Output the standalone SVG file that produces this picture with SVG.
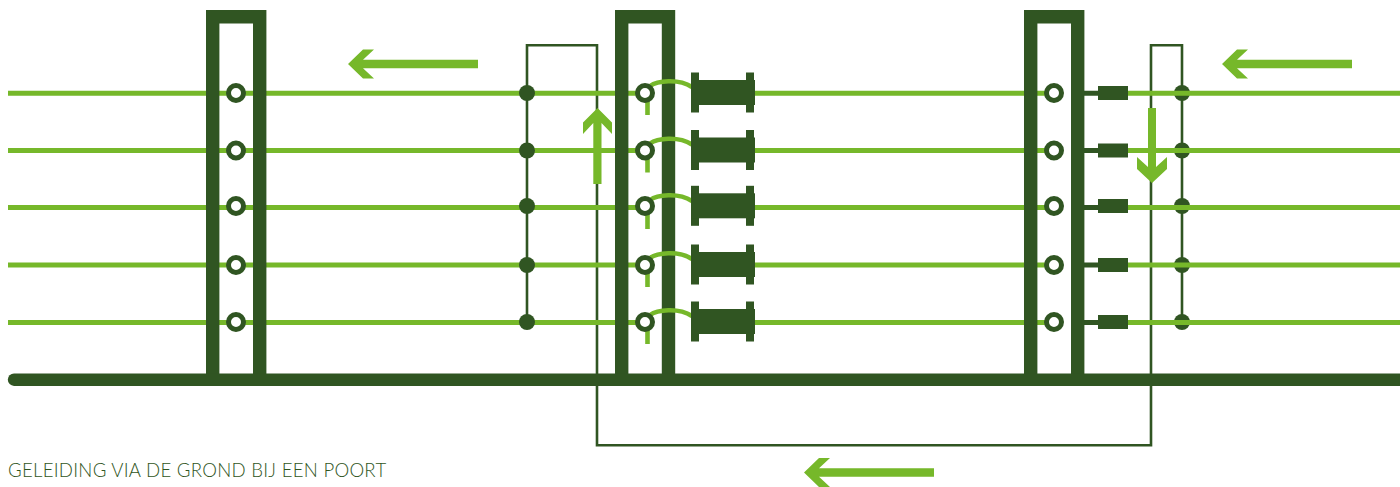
<svg xmlns="http://www.w3.org/2000/svg" width="1400" height="487" viewBox="0 0 1400 487">
<style>
.wire{stroke:#76b82a;stroke-width:5;fill:none}
.loop{stroke:#305522;stroke-width:2.6;fill:none}
.stub{stroke:#305522;stroke-width:5;fill:none}
.post{fill:none;stroke:#305522;stroke-width:13.400}
.ring{fill:#fff;stroke:#305522;stroke-width:5}
.dot{fill:#305522}
.arr{fill:#76b82a}
.lead{stroke:#76b82a;stroke-width:4.600;fill:none}
.dk{fill:#305522}
text{font-family:Lato,"Open Sans",sans-serif;font-weight:300;font-size:18.600px;letter-spacing:.27px;fill:#305522}
</style>
<defs>
<path id="arrow" d="M0 0L15 -14.500H26L15 -4.250H130V4.250H15L26 14.500H15Z" class="arr"/>
<g id="spool" class="dk"><rect x="0" y="-20.500" width="8" height="40"/><rect x="55" y="-20.500" width="8" height="40"/><rect x="0" y="-13" width="64" height="25"/></g>
<g id="block" class="dk"><rect x="0" y="-7" width="30" height="14"/></g>
</defs>
<g id="connectors">
<g id="loop-wire"><path class="loop" d="M527 322V45.300H597V445.300H1151V45.300H1182V322"/></g>
<g id="wires-left">
<path class="wire" d="M8 93.300H645M8 150.500H645M8 207.500H645M8 265H645M8 322.500H645"/>
</g>
<g id="wires-mid">
<path class="wire" d="M755 93.300H1054M755 150.500H1054M755 207.500H1054M755 265H1054M755 322.500H1054"/>
</g>
<g id="right-junctions"><circle class="dot" cx="1182" cy="93" r="8"/><circle class="dot" cx="1182" cy="150.500" r="8"/><circle class="dot" cx="1182" cy="206" r="8"/><circle class="dot" cx="1182" cy="265" r="8"/><circle class="dot" cx="1182" cy="322" r="8"/></g>
<g id="wires-right">
<path class="wire" d="M1128 93.300H1400M1128 150.500H1400M1128 207.500H1400M1128 265H1400M1128 322.500H1400"/>
</g>
<path class="stub" d="M1084 93.300H1098M1084 150.500H1098M1084 207.500H1098M1084 265H1098M1084 322.500H1098"/>
<g id="left-junctions"><circle class="dot" cx="527" cy="93" r="8"/><circle class="dot" cx="527" cy="150.500" r="8"/><circle class="dot" cx="527" cy="206" r="8"/><circle class="dot" cx="527" cy="265" r="8"/><circle class="dot" cx="527" cy="322" r="8"/></g>
</g>
<g id="post-1"><path class="post" d="M212.700 380V16.700H259.700V380"/></g>
<g id="post-2"><path class="post" d="M621.700 380V16.700H668.500V380"/></g>
<g id="post-3"><path class="post" d="M1030.700 380V16.700H1077.700V380"/></g>
<g id="ground"><path d="M14 379.700H1400" stroke="#305522" stroke-width="12.400" stroke-linecap="round" fill="none"/></g>
<g id="leads">
<path class="lead" d="M650 86C657 81 678 78 692 87M650 143.500C657 138.500 678 135.500 692 144.500M650 200C657 195 678 192 692 201M650 258C657 253 678 250 692 259M650 315C657 310 678 307 692 316"/>
<path class="lead" d="M647.500 100V115M647.500 157.500V172.500M647.500 213V229M647.500 272V287M647.500 329V344"/>
</g>
<g id="rings-1"><circle class="ring" cx="236" cy="93" r="7.500"/><circle class="ring" cx="236" cy="150.500" r="7.500"/><circle class="ring" cx="236" cy="206" r="7.500"/><circle class="ring" cx="236" cy="265" r="7.500"/><circle class="ring" cx="236" cy="322" r="7.500"/></g>
<g id="rings-2"><circle class="ring" cx="645" cy="93" r="7.500"/><circle class="ring" cx="645" cy="150.500" r="7.500"/><circle class="ring" cx="645" cy="206" r="7.500"/><circle class="ring" cx="645" cy="265" r="7.500"/><circle class="ring" cx="645" cy="322" r="7.500"/></g>
<g id="rings-3"><circle class="ring" cx="1054" cy="93" r="7.500"/><circle class="ring" cx="1054" cy="150.500" r="7.500"/><circle class="ring" cx="1054" cy="206" r="7.500"/><circle class="ring" cx="1054" cy="265" r="7.500"/><circle class="ring" cx="1054" cy="322" r="7.500"/></g>
<g id="spools"><use href="#spool" x="691" y="93"/><use href="#spool" x="691" y="150.500"/><use href="#spool" x="691" y="206.300"/><use href="#spool" x="691" y="265"/><use href="#spool" x="691" y="322"/></g>
<g id="blocks"><use href="#block" x="1098" y="93"/><use href="#block" x="1098" y="150.500"/><use href="#block" x="1098" y="206"/><use href="#block" x="1098" y="265"/><use href="#block" x="1098" y="322"/></g>
<g id="arrows">
<use href="#arrow" transform="translate(348 64)"/>
<use href="#arrow" transform="translate(1222 64)"/>
<use href="#arrow" transform="translate(804 472.500)"/>
<path class="arr" d="M597.500 108L612 122.500V134L601.500 123V184H593.300V123L583 134V122.500Z"/>
<path class="arr" d="M1152 183L1167 169V157L1156 167V108H1148V167L1137 157V169Z"/>
</g>
<text id="caption" x="8" y="476.500">GELEIDING VIA DE GROND BIJ EEN POORT</text>
</svg>
